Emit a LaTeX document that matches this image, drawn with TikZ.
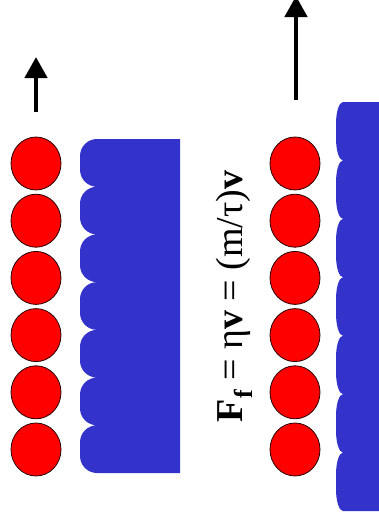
\documentclass[tikz,border=0pt]{standalone}
\usepackage{fontspec}
\setmainfont{Liberation Serif}
\usetikzlibrary{shapes.geometric,arrows.meta}
\definecolor{slab}{RGB}{51,51,204}
\definecolor{bead}{RGB}{255,0,0}
\tikzset{
  ball/.style={ellipse, draw=black!85!red, line width=0.8pt, fill=bead,
    minimum width=50pt, minimum height=53pt, inner sep=0pt},
  motion/.style={line width=4.5pt, -{Triangle[length=21pt,width=22pt]}},
  formula/.style={rotate=90, anchor=base, inner sep=0pt,
    font=\fontsize{38}{38}\selectfont},
}
\begin{document}
\begin{tikzpicture}[x=1pt,y=-1pt]
\useasboundingbox (0,0) rectangle (379,522);

% left slab with a scalloped left face (7 bumps)
\fill[slab] (180,139) -- (97,139)
  \foreach \i in {0,...,6} {
    .. controls (87.6,{139+\i*47.714}) and (80,{139+\i*47.714+7.6}) .. (80,{139+\i*47.714+17})
    -- (80,{139+(\i+1)*47.714-17})
    .. controls (80,{139+(\i+1)*47.714-7.6}) and (87.6,{139+(\i+1)*47.714}) .. (97,{139+(\i+1)*47.714})
  } -- (180,473) -- cycle;

% right slab, shallower bumps, running off the right edge
\fill[slab] (385,102) -- (343,102)
  \foreach \i in {0,...,6} {
    .. controls (339.1,{102+\i*58.43}) and (336,{102+\i*58.43+9.9}) .. (336,{102+\i*58.43+22})
    -- (336,{102+(\i+1)*58.43-22})
    .. controls (336,{102+(\i+1)*58.43-9.9}) and (339.1,{102+(\i+1)*58.43}) .. (343,{102+(\i+1)*58.43})
  } -- (385,511) -- cycle;

% bead columns
\foreach \i in {1,...,6} {
  \node[ball] (l\i) at (36,{163.5+(\i-1)*57.2}) {};
  \node[ball] (r\i) at (295,{163.5+(\i-1)*57.2}) {};
}

% velocity arrows
\coordinate (la0) at (36,112);
\coordinate (la1) at (36,57);
\draw[motion] (la0) -- (la1);
\coordinate (ra0) at (296,100);
\coordinate (ra1) at (296,-4);
\draw[motion] (ra0) -- (ra1);

% friction law
\node[formula] (law) at (242,296.5)
  {{\bfseries F}\raisebox{-10pt}{\fontsize{26}{26}\selectfont\bfseries f} = η{\bfseries v} = (m/τ){\bfseries v}};
\end{tikzpicture}
\end{document}
